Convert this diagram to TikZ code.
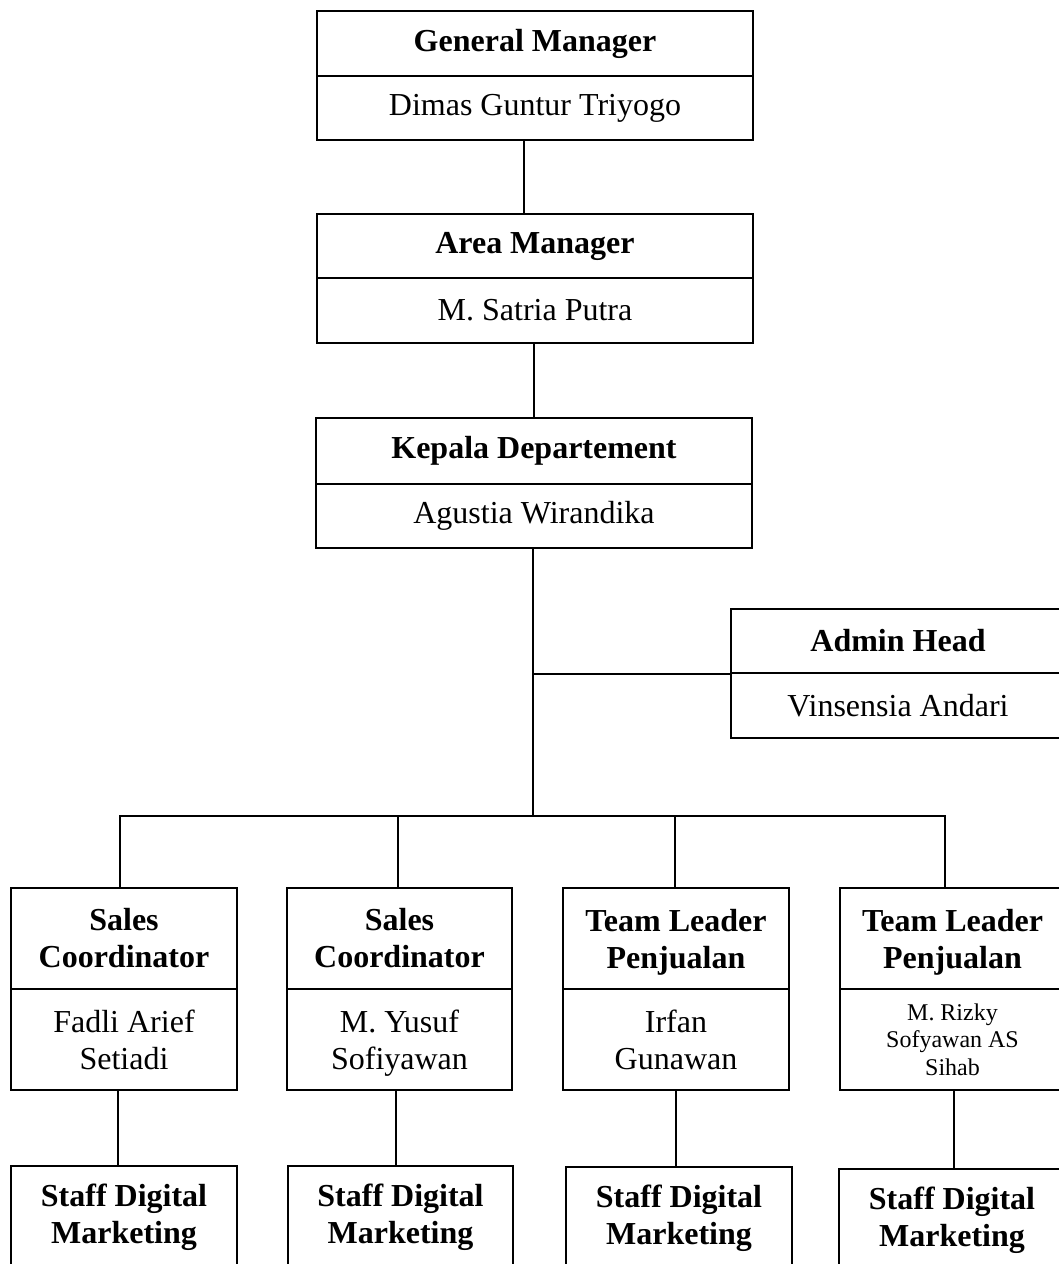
\documentclass[tikz,border=0pt]{standalone}
\usepackage{fontspec}
\setmainfont{Liberation Serif}
\begin{document}
\begin{tikzpicture}[x=1pt,y=-1pt,
  box/.style={draw, line width=2.4pt, inner sep=0pt, align=center,
    font=\fontsize{32}{37}\selectfont},
  ttl/.style={box, font=\fontsize{32}{37}\selectfont\bfseries},
  small/.style={box, font=\fontsize{24}{27.7}\selectfont},
  staff/.style={ttl, anchor=north, inner xsep=0pt, inner ysep=18pt, text depth=90pt},
  conn/.style={line width=2.4pt}]
\useasboundingbox (0,0) rectangle (1059,1264);
\clip (0,0) rectangle (1059,1264);
% top chain
\node[ttl, minimum width=436, minimum height=65] (gmt) at (535,43.5) {General Manager};
\node[box, minimum width=436, minimum height=64] (gmn) at (535,108) {Dimas Guntur Triyogo};
\node[ttl, minimum width=436, minimum height=64] (amt) at (535,246) {Area Manager};
\node[box, minimum width=436, minimum height=65] (amn) at (535,310.5) {M. Satria Putra};
\node[ttl, minimum width=436, minimum height=66] (kdt) at (534,451) {Kepala Departement};
\node[box, minimum width=436, minimum height=64] (kdn) at (534,516) {Agustia Wirandika};
% admin
\node[ttl, minimum width=334, minimum height=64] (adt) at (898,641) {Admin Head};
\node[box, minimum width=334, minimum height=65] (adn) at (898,705.5) {Vinsensia Andari};
% second row
\node[ttl, minimum width=226, minimum height=101] (sc1t) at (124,938.5) {Sales\\Coordinator};
\node[box, minimum width=226, minimum height=101] (sc1n) at (124,1039.5) {Fadli Arief\\Setiadi};
\node[ttl, minimum width=225, minimum height=101] (sc2t) at (399.5,938.5) {Sales\\Coordinator};
\node[box, minimum width=225, minimum height=101, text depth=0pt] (sc2n) at (399.5,1039.5) {M. Yusuf\\Sofiyawan};
\node[ttl, minimum width=226, minimum height=101, text depth=0pt] (tl1t) at (676,938.5) {Team Leader\\Penjualan};
\node[box, minimum width=226, minimum height=101] (tl1n) at (676,1039.5) {Irfan\\Gunawan};
\node[ttl, minimum width=225, minimum height=101, text depth=0pt] (tl2t) at (952.5,938.5) {Team Leader\\Penjualan};
\node[small, minimum width=225, minimum height=101] (tl2n) at (952.5,1039.5) {M. Rizky\\Sofyawan AS\\Sihab};
% staff row
\node[staff, minimum width=226] (s1) at (124,1165) {Staff Digital\\Marketing};
\node[staff, minimum width=225] (s2) at (400.5,1165) {Staff Digital\\Marketing};
\node[staff, minimum width=226] (s3) at (679,1166) {Staff Digital\\Marketing};
\node[staff, minimum width=226] (s4) at (952,1168) {Staff Digital\\Marketing};
% connectors
\draw[conn] ([xshift=-11pt]gmn.south) -- ([xshift=-11pt]amt.north);
\draw[conn] ([xshift=-1pt]amn.south) -- (kdt.north);
\coordinate (hub) at (533,816);
\draw[conn] ([xshift=-1pt]kdn.south) -- (hub);
\draw[conn] (adt.south west) -- (adt.south west -| hub);
\draw[conn] ([xshift=-4pt]sc1t.north) |- ([xshift=-7.5pt]tl2t.north |- hub) -- ([xshift=-7.5pt]tl2t.north);
\draw[conn] ([xshift=-1.5pt]sc2t.north) -- ([xshift=-1.5pt]sc2t.north |- hub);
\draw[conn] ([xshift=-1pt]tl1t.north) -- ([xshift=-1pt]tl1t.north |- hub);
\draw[conn] ([xshift=-6pt]sc1n.south) -- ([xshift=-6pt]sc1n.south |- s1.north);
\draw[conn] ([xshift=-3.5pt]sc2n.south) -- ([xshift=-3.5pt]sc2n.south |- s2.north);
\draw[conn] (tl1n.south) -- (tl1n.south |- s3.north);
\draw[conn] ([xshift=1.5pt]tl2n.south) -- ([xshift=1.5pt]tl2n.south |- s4.north);
\end{tikzpicture}
\end{document}
